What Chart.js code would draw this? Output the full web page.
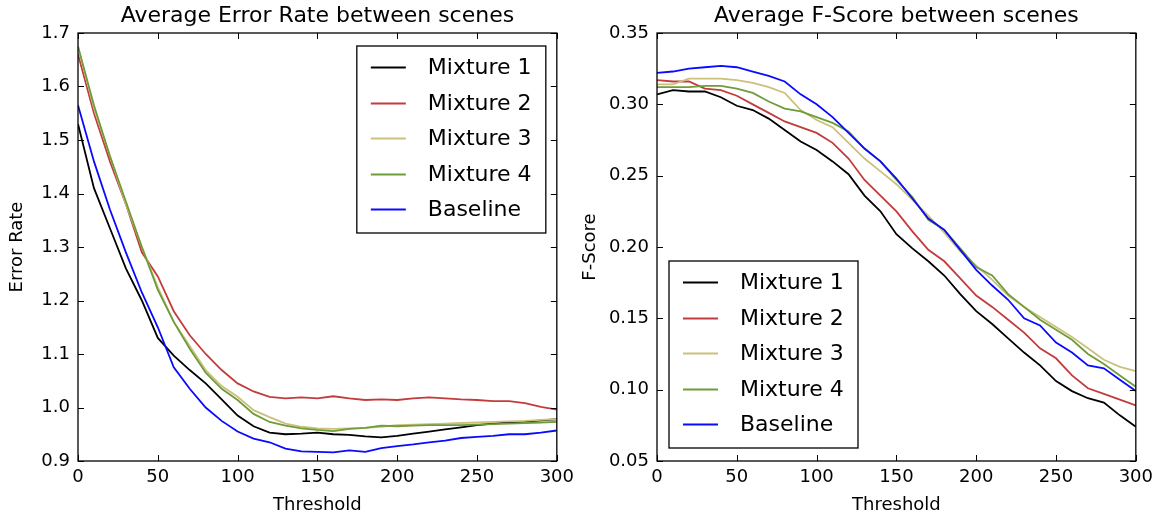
<!DOCTYPE html>
<html>
<head>
<meta charset="utf-8">
<script src="https://cdn.jsdelivr.net/npm/chart.js@4/dist/chart.umd.min.js"></script>
<style>
    html, body { margin: 0; padding: 0; background: #fff; }
    #wrap { position: relative; width: 1159px; height: 517px; }
    .panel { position: absolute; top: 0; height: 517px; }
    #left { left: 0; width: 580px; }
    #right { left: 580px; width: 579px; }
</style>
</head>
<body>
<div id="wrap">
    <div class="panel" id="left"><canvas id="errorChart"></canvas></div>
    <div class="panel" id="right"><canvas id="fscoreChart"></canvas></div>
</div>
<script>
const thresholds = [0, 10, 20, 30, 40, 50, 60, 70, 80, 90, 100, 110, 120, 130, 140, 150,
    160, 170, 180, 190, 200, 210, 220, 230, 240, 250, 260, 270, 280, 290, 300];

const seriesNames = ["Mixture 1", "Mixture 2", "Mixture 3", "Mixture 4", "Baseline"];
const seriesColors = ["#000000", "#c33c3c", "#cbc07c", "#6f9c3b", "#0a0aff"];

// average error rate
const errMix1 = [1.53, 1.41, 1.335, 1.26, 1.20, 1.13, 1.097, 1.07, 1.045, 1.015, 0.985, 0.965, 0.953, 0.950, 0.951, 0.953,
    0.950, 0.949, 0.946, 0.944, 0.947, 0.951, 0.955, 0.959, 0.963, 0.967, 0.970, 0.972, 0.973, 0.976, 0.978];
const errMix2 = [1.66, 1.55, 1.46, 1.38, 1.29, 1.245, 1.18, 1.135, 1.10, 1.07, 1.045, 1.03, 1.02, 1.017, 1.019, 1.017,
    1.021, 1.017, 1.014, 1.015, 1.014, 1.017, 1.019, 1.017, 1.015, 1.014, 1.012, 1.012, 1.008, 1.001, 0.996];
const errMix3 = [1.675, 1.56, 1.47, 1.38, 1.30, 1.225, 1.16, 1.115, 1.07, 1.04, 1.02, 0.995, 0.982, 0.970, 0.964, 0.961,
    0.960, 0.961, 0.962, 0.964, 0.967, 0.968, 0.969, 0.970, 0.971, 0.972, 0.973, 0.974, 0.975, 0.977, 0.978];
const errMix4 = [1.675, 1.565, 1.47, 1.385, 1.30, 1.22, 1.16, 1.11, 1.065, 1.035, 1.014, 0.988, 0.973, 0.966, 0.961, 0.958,
    0.956, 0.960, 0.962, 0.966, 0.965, 0.966, 0.967, 0.967, 0.967, 0.968, 0.969, 0.970, 0.971, 0.972, 0.973];
const errBase = [1.565, 1.46, 1.37, 1.29, 1.215, 1.15, 1.075, 1.035, 1.00, 0.975, 0.955, 0.942, 0.935, 0.923, 0.918, 0.917,
    0.916, 0.920, 0.917, 0.924, 0.928, 0.931, 0.935, 0.938, 0.943, 0.945, 0.947, 0.950, 0.950, 0.953, 0.957];

// average f-score
const fMix1 = [0.307, 0.310, 0.309, 0.309, 0.305, 0.299, 0.296, 0.290, 0.282, 0.274, 0.268, 0.260, 0.251, 0.236, 0.225, 0.209,
    0.199, 0.190, 0.180, 0.167, 0.155, 0.146, 0.136, 0.126, 0.117, 0.106, 0.099, 0.094, 0.091, 0.082, 0.074];
const fMix2 = [0.317, 0.316, 0.316, 0.311, 0.310, 0.306, 0.300, 0.294, 0.288, 0.284, 0.280, 0.273, 0.262, 0.247, 0.236, 0.225,
    0.211, 0.198, 0.190, 0.178, 0.166, 0.158, 0.149, 0.140, 0.129, 0.122, 0.110, 0.101, 0.097, 0.093, 0.089];
const fMix3 = [0.314, 0.314, 0.318, 0.318, 0.318, 0.317, 0.315, 0.312, 0.308, 0.296, 0.289, 0.284, 0.273, 0.262, 0.253, 0.244,
    0.233, 0.222, 0.210, 0.197, 0.187, 0.177, 0.166, 0.158, 0.151, 0.144, 0.137, 0.129, 0.121, 0.116, 0.113];
const fMix4 = [0.312, 0.312, 0.312, 0.313, 0.313, 0.311, 0.308, 0.302, 0.297, 0.295, 0.291, 0.287, 0.281, 0.269, 0.260, 0.247,
    0.235, 0.219, 0.212, 0.199, 0.186, 0.180, 0.167, 0.158, 0.149, 0.142, 0.135, 0.125, 0.118, 0.110, 0.102];
const fBase = [0.322, 0.323, 0.325, 0.326, 0.327, 0.326, 0.323, 0.320, 0.316, 0.307, 0.300, 0.291, 0.280, 0.269, 0.260, 0.248,
    0.234, 0.220, 0.212, 0.198, 0.184, 0.173, 0.163, 0.150, 0.145, 0.133, 0.126, 0.117, 0.115, 0.107, 0.099];

const xTicks = [0, 50, 100, 150, 200, 250, 300];
const errTicks = [0.9, 1.0, 1.1, 1.2, 1.3, 1.4, 1.5, 1.6, 1.7];
const fTicks = [0.05, 0.10, 0.15, 0.20, 0.25, 0.30, 0.35];

const FONT = "'DejaVu Sans', sans-serif";

// box round the plot plus inward tick marks on all four sides
const frame = {
    id: "frame",
    afterDatasetsDraw(chart) {
        const { ctx, chartArea: a, scales } = chart;
        const len = 6;
        ctx.save();
        ctx.strokeStyle = "#000";
        ctx.lineWidth = 1.3;
        ctx.strokeRect(a.left, a.top, a.right - a.left, a.bottom - a.top);
        ctx.lineWidth = 1;
        ctx.beginPath();
        scales.x.ticks.forEach((t) => {
            const px = Math.round(scales.x.getPixelForValue(t.value)) + 0.5;
            ctx.moveTo(px, a.bottom); ctx.lineTo(px, a.bottom - len);
            ctx.moveTo(px, a.top); ctx.lineTo(px, a.top + len);
        });
        scales.y.ticks.forEach((t) => {
            const py = Math.round(scales.y.getPixelForValue(t.value)) + 0.5;
            ctx.moveTo(a.left, py); ctx.lineTo(a.left + len, py);
            ctx.moveTo(a.right, py); ctx.lineTo(a.right - len, py);
        });
        ctx.stroke();
        ctx.restore();
    },
};

// matplotlib style legend box inside the plot
const boxLegend = {
    id: "boxLegend",
    afterDraw(chart, args, opts) {
        const { ctx, chartArea: a } = chart;
        const w = 189, h = 187, rowH = 35.6;
        const x = opts.corner === "ne" ? a.right - 11 - w : a.left + 12;
        const y = opts.corner === "ne" ? a.top + 13 : a.bottom - 13 - h;
        ctx.save();
        ctx.fillStyle = "#fff";
        ctx.fillRect(x, y, w, h);
        ctx.strokeStyle = "#000";
        ctx.lineWidth = 1.3;
        ctx.strokeRect(x, y, w, h);
        ctx.font = "22px " + FONT;
        ctx.textBaseline = "middle";
        chart.data.datasets.forEach((ds, i) => {
            const cy = Math.round(y + 21 + i * rowH) + 0.5;
            ctx.strokeStyle = ds.borderColor;
            ctx.lineWidth = 2;
            ctx.beginPath();
            ctx.moveTo(x + 14, cy);
            ctx.lineTo(x + 49, cy);
            ctx.stroke();
            ctx.fillStyle = "#000";
            ctx.fillText(ds.label, x + 71, cy + 1);
        });
        ctx.restore();
    },
};

function makeChart(id, title, yTitle, series, yTicks, yMin, yMax, decimals, yWidth, yTitlePad, corner) {
    new Chart(document.getElementById(id), {
        type: "line",
        data: {
            datasets: series.map((vals, i) => ({
                label: seriesNames[i],
                data: vals.map((v, j) => ({ x: thresholds[j], y: v })),
                borderColor: seriesColors[i],
                backgroundColor: seriesColors[i],
                borderWidth: 1.8,
                pointRadius: 0,
                tension: 0,
                order: series.length - i,
            })),
        },
        options: {
            responsive: true,
            maintainAspectRatio: false,
            animation: false,
            layout: { padding: { left: 0, right: 20, top: 0, bottom: 0 } },
            plugins: {
                legend: { display: false },
                tooltip: { enabled: false },
                title: {
                    display: true,
                    fullSize: false,
                    text: title,
                    color: "#000",
                    font: { family: FONT, size: 22, weight: "normal" },
                    padding: { top: 3, bottom: 3.6 },
                },
                boxLegend: { corner: corner },
            },
            scales: {
                x: {
                    type: "linear",
                    min: 0,
                    max: 300,
                    afterBuildTicks: (s) => { s.ticks = xTicks.map((v) => ({ value: v })); },
                    afterFit: (s) => { s.height = 56; },
                    grid: { display: false, drawTicks: false },
                    border: { display: false },
                    ticks: {
                        color: "#000",
                        padding: 6,
                        maxRotation: 0,
                        font: { family: FONT, size: 18 },
                    },
                    title: {
                        display: true,
                        text: "Threshold",
                        color: "#000",
                        font: { family: FONT, size: 18 },
                        padding: { top: 0, bottom: 1 },
                    },
                },
                y: {
                    min: yMin,
                    max: yMax,
                    afterBuildTicks: (s) => { s.ticks = yTicks.map((v) => ({ value: v })); },
                    afterFit: (s) => { s.width = yWidth; },
                    grid: { display: false, drawTicks: false },
                    border: { display: false },
                    ticks: {
                        color: "#000",
                        padding: 8,
                        font: { family: FONT, size: 18 },
                        callback: (v) => Number(v).toFixed(decimals),
                    },
                    title: {
                        display: true,
                        text: yTitle,
                        color: "#000",
                        font: { family: FONT, size: 18 },
                        padding: { top: yTitlePad, bottom: 0 },
                    },
                },
            },
        },
        plugins: [frame, boxLegend],
    });
}

makeChart("errorChart", "Average Error Rate between scenes", "Error Rate",
    [errMix1, errMix2, errMix3, errMix4, errBase], errTicks, 0.9, 1.7, 1, 78, 7, "ne");
makeChart("fscoreChart", "Average F-Score between scenes", "F-Score",
    [fMix1, fMix2, fMix3, fMix4, fBase], fTicks, 0.05, 0.35, 2, 77, 0, "sw");
</script>
</body>
</html>
